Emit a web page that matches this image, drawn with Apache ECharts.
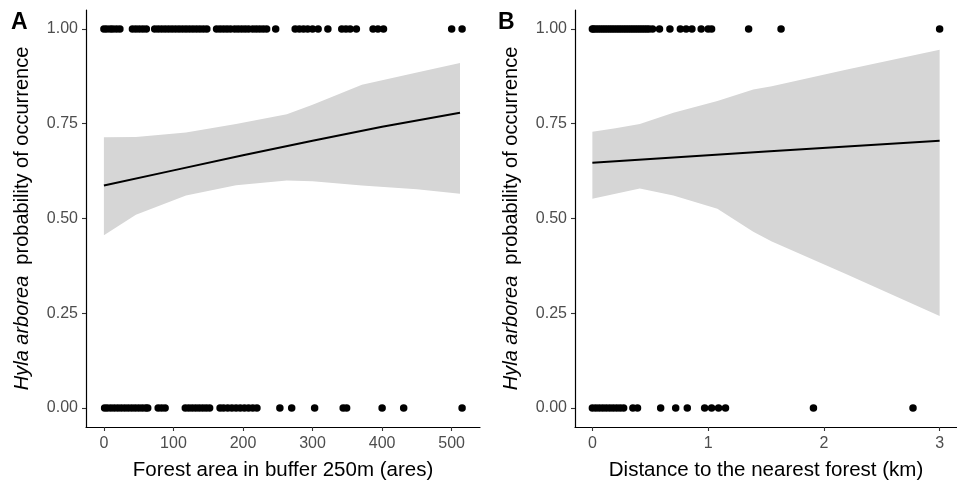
<!DOCTYPE html>
<html>
<head>
<meta charset="utf-8">
<script src="https://cdn.jsdelivr.net/npm/echarts@6/dist/echarts.min.js"></script>
<style>
html,body{margin:0;padding:0;background:#fff;}
#chart{width:957px;height:486px;}
</style>
</head>
<body>
<div id="chart"></div>
<script>
// ---------- Panel A data: forest area in buffer 250m (ares) ----------
var aPresentX = [0, 4, 9, 13, 18, 23, 41, 46, 51, 56, 61,
  73, 78, 83, 88, 93, 98, 103, 108, 113, 118, 123, 128, 133, 138, 143, 148,
  162, 167, 172, 177, 182, 188, 193, 198, 203, 208, 214, 219, 224, 229, 234,
  247, 275, 281, 287, 293, 300, 308, 322, 342, 348, 354, 363, 387, 394, 402, 500, 515];
var aAbsentX = [1, 5, 10, 15, 20, 25, 30, 35, 40, 45, 50, 55, 60, 63, 78, 83, 88,
  117, 122, 127, 132, 137, 142, 147, 152, 167, 172, 178, 184, 190, 196, 202, 208, 214, 220,
  253, 270, 303, 344, 349, 400, 431, 515];
var aFitX = [0, 100, 200, 300, 400, 512];
var aFitY = [0.587, 0.627, 0.667, 0.705, 0.742, 0.779];
var aBandX = [0, 46, 118, 190, 263, 300, 371, 450, 512];
var aBandLow = [0.456, 0.51, 0.561, 0.588, 0.600, 0.598, 0.587, 0.577, 0.565];
var aBandHigh = [0.714, 0.715, 0.727, 0.749, 0.775, 0.80, 0.853, 0.885, 0.91];

// ---------- Panel B data: distance to the nearest forest (km) ----------
var bPresentX = [0, 0.01, 0.03, 0.05, 0.07, 0.09, 0.11, 0.13, 0.15, 0.17, 0.19, 0.21, 0.23,
  0.25, 0.27, 0.29, 0.31, 0.33, 0.35, 0.37, 0.39, 0.41, 0.43, 0.45, 0.47, 0.49, 0.52,
  0.58, 0.67, 0.76, 0.81, 0.86, 0.94, 1.00, 1.03, 1.35, 1.63, 3.0];
var bAbsentX = [0, 0.03, 0.06, 0.09, 0.12, 0.15, 0.18, 0.21, 0.24, 0.27, 0.35, 0.39,
  0.59, 0.72, 0.82, 0.97, 1.03, 1.09, 1.15, 1.91, 2.77];
var bFitX = [0, 1.5, 3.0];
var bFitY = [0.647, 0.677, 0.705];
var bBandX = [0, 0.2, 0.41, 0.70, 1.08, 1.39, 1.55, 2.2, 3.0];
var bBandLow = [0.552, 0.565, 0.579, 0.561, 0.526, 0.465, 0.439, 0.352, 0.243];
var bBandHigh = [0.729, 0.738, 0.749, 0.779, 0.81, 0.84, 0.849, 0.893, 0.945];

// ---------- tick labels ----------
var aXTicks = [0, 100, 200, 300, 400, 500];
var bXTicks = [0, 1, 2, 3];
var yTicks = [0, 0.25, 0.5, 0.75, 1];

var xTitleA = 'Forest area in buffer 250m (ares)';
var xTitleB = 'Distance to the nearest forest (km)';
var yTitle = '{i|Hyla arborea}  probability of occurrence';

function pairs(xs, ys) { return xs.map(function (x, i) { return [x, ys[i]]; }); }
function consts(xs, v) { return xs.map(function (x) { return [x, v]; }); }

var FONT = 'Liberation Sans, Arial, sans-serif';
var bandColor = '#d6d6d6';

function xAxisDef(gi, min, max, ticks, title) {
  return {
    type: 'value', gridIndex: gi, min: min, max: max,
    name: title, nameLocation: 'middle', nameGap: 33,
    nameTextStyle: { fontFamily: FONT, fontSize: 20.5, color: '#000' },
    axisLine: { show: true, onZero: false, lineStyle: { color: '#000', width: 1.2 } },
    axisTick: { show: true, customValues: ticks, length: 4, lineStyle: { color: '#333', width: 1.1 } },
    axisLabel: { customValues: ticks, margin: 9, fontFamily: FONT, fontSize: 16, color: '#4d4d4d' },
    splitLine: { show: false }
  };
}
function yAxisDef(gi) {
  return {
    type: 'value', gridIndex: gi, min: -0.05, max: 1.05,
    name: yTitle, nameLocation: 'middle', nameGap: 54, nameRotate: 90,
    nameTextStyle: { fontFamily: FONT, fontSize: 20, color: '#000',
      rich: { i: { fontFamily: FONT, fontSize: 20, fontStyle: 'italic', color: '#000' } } },
    axisLine: { show: true, onZero: false, lineStyle: { color: '#000', width: 1.2 } },
    axisTick: { show: true, customValues: yTicks, length: 4, lineStyle: { color: '#333', width: 1.1 } },
    axisLabel: { customValues: yTicks, margin: 8, fontFamily: FONT, fontSize: 16, color: '#4d4d4d',
      formatter: function (v) { return v.toFixed(2); } },
    splitLine: { show: false }
  };
}
function bandSeries(ai, xs, lo, hi) {
  return {
    type: 'custom', xAxisIndex: ai, yAxisIndex: ai, data: pairs(xs, lo), silent: true, z: 1,
    renderItem: function (params, api) {
      if (params.dataIndex !== 0) return null;
      var pts = [];
      for (var i = 0; i < xs.length; i++) pts.push(api.coord([xs[i], hi[i]]));
      for (var j = xs.length - 1; j >= 0; j--) pts.push(api.coord([xs[j], lo[j]]));
      return { type: 'polygon', shape: { points: pts }, style: { fill: bandColor, stroke: null } };
    }
  };
}
function fitSeries(ai, xs, ys) {
  return { type: 'line', xAxisIndex: ai, yAxisIndex: ai, data: pairs(xs, ys), symbol: 'none',
    lineStyle: { color: '#000', width: 2 }, z: 3 };
}
function pointSeries(ai, xs, v) {
  return { type: 'scatter', xAxisIndex: ai, yAxisIndex: ai, data: consts(xs, v), symbol: 'circle',
    symbolSize: 7.5, itemStyle: { color: '#000', opacity: 1 }, z: 4 };
}

var chart = echarts.init(document.getElementById('chart'), null, { renderer: 'canvas' });
chart.setOption({
  animation: false,
  backgroundColor: '#fff',
  grid: [
    { left: 86, top: 10, width: 394, height: 420 },
    { left: 575, top: 10, width: 389, height: 420 }
  ],
  xAxis: [
    xAxisDef(0, -25.75, 540.75, aXTicks, xTitleA),
    xAxisDef(1, -0.15, 3.15, bXTicks, xTitleB)
  ],
  yAxis: [yAxisDef(0), yAxisDef(1)],
  graphic: [
    { type: 'text', left: 11, top: 11, style: { text: 'A', fontFamily: FONT, fontSize: 23, fontWeight: 'bold', fill: '#000' } },
    { type: 'text', left: 498, top: 11, style: { text: 'B', fontFamily: FONT, fontSize: 23, fontWeight: 'bold', fill: '#000' } }
  ],
  series: [
    bandSeries(0, aBandX, aBandLow, aBandHigh),
    fitSeries(0, aFitX, aFitY), pointSeries(0, aPresentX, 1), pointSeries(0, aAbsentX, 0),
    bandSeries(1, bBandX, bBandLow, bBandHigh),
    fitSeries(1, bFitX, bFitY), pointSeries(1, bPresentX, 1), pointSeries(1, bAbsentX, 0)
  ]
});
</script>
</body>
</html>
